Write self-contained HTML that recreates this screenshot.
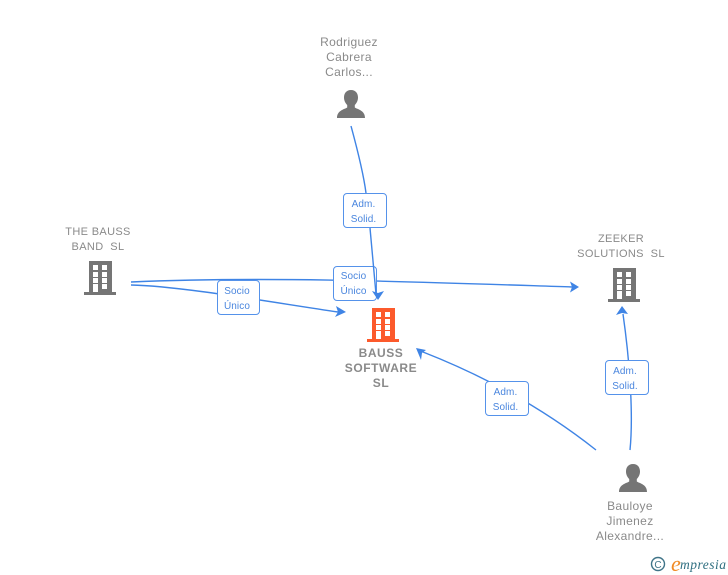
<!DOCTYPE html>
<html><head><meta charset="utf-8">
<style>
html,body{margin:0;padding:0;background:#fff}
#c{position:relative;width:728px;height:575px;overflow:hidden;font-family:"Liberation Sans",Arial,sans-serif}
.t{position:absolute;text-align:center;color:#8a8a8a;font-size:12px;line-height:15px;letter-spacing:.35px;white-space:pre}
.b{position:absolute;width:44px;height:35px;box-sizing:border-box;border:1.5px solid #5592ea;border-radius:4px;background:#fff;color:#4a86de;font-size:10px;line-height:15px;padding:3px 3px 0 0;text-align:center;letter-spacing:.1px}
svg{position:absolute;left:0;top:0}
#top{z-index:2;pointer-events:none}
</style></head><body><div id="c">
<svg width="728" height="575" viewBox="0 0 728 575">
<defs>
<path id="bld" fill-rule="evenodd" d="M5 0H28V31H32V34H0V31H5ZM9 4v5h5v-5zM18 4v5h5v-5zM9 11v5h5v-5zM18 11v5h5v-5zM9 17v5h5v-5zM18 17v5h5v-5zM9 23v8h5v-8zM18 23v5h5v-5z"/>
<path id="per" d="M14 0c-4.800 0-7 3.500-7 7.500 0 3 1.200 5.500 3.200 7.500v2.500C7 19.500 0 20.500 0 28H28c0-7.500-7-8.500-10.200-10.500V15c2-2 3.200-4.500 3.200-7.500C21 3.500 18.800 0 14 0Z"/>
</defs>
<g fill="none" stroke="#3f84e5" stroke-width="1.4">
<path d="M131 285C180 286 270 302 338 312"/>
<path d="M131 282C270 276 420 282 572 287"/>
<path d="M596 450Q520 390 423 352"/>
<path d="M630 450C633 420 631 370 623 314"/>
</g>
<g fill="#3f84e5">
<path d="M346 312L336 306L338 312L335 317Z"/>
<path d="M579 287L570 281.500L572 287L570 292.500Z"/>
<path d="M416 348L426 350L422 353L421 360Z"/>
<path d="M622 306L616 315L622 313L628 314Z"/>
</g>
<use href="#per" x="337" y="90" fill="#757575"/>
<use href="#per" x="619" y="464" fill="#757575"/>
<use href="#bld" x="84" y="261" fill="#757575"/>
<use href="#bld" x="608" y="268" fill="#757575"/>
<use href="#bld" x="367" y="308" fill="#fc5a2c"/>
<circle cx="658" cy="564" r="6.500" fill="none" stroke="#3f7488" stroke-width="1.4"/>
<text x="658" y="568" font-size="10" fill="#3f7488" text-anchor="middle" font-family="Liberation Sans">C</text>
<text x="671" y="571" font-size="22" fill="#f08a24" font-style="italic" font-family="Liberation Serif">e</text>
<text x="680" y="569" font-size="13.500" fill="#2f6f80" font-style="italic" font-family="Liberation Serif" letter-spacing=".5">mpresia</text>
</svg>
<div class="t" style="left:299px;top:35px;width:100px">Rodriguez
Cabrera
Carlos...</div>
<div class="t" style="left:48px;top:225px;width:100px;font-size:11px">THE BAUSS
BAND  SL</div>
<div class="t" style="left:561px;top:232px;width:120px;font-size:11px">ZEEKER
SOLUTIONS  SL</div>
<div class="t" style="left:331px;top:346px;width:100px;font-weight:bold;letter-spacing:.55px">BAUSS
SOFTWARE
SL</div>
<div class="t" style="left:574px;top:499px;width:112px">Bauloye
Jimenez
Alexandre...</div>
<div class="b" style="left:343px;top:193px">Adm.<br>Solid.</div>
<div class="b" style="left:333px;top:266px;padding-top:2px">Socio<br>Único</div>
<div class="b" style="left:217px;top:280px;width:43px">Socio<br>Único</div>
<div class="b" style="left:485px;top:381px">Adm.<br>Solid.</div>
<div class="b" style="left:604.500px;top:360px">Adm.<br>Solid.</div>
<svg id="top" width="728" height="575" viewBox="0 0 728 575">
<path d="M351 126Q363 170 366 193M370 228L376 294" fill="none" stroke="#3f84e5" stroke-width="1.4"/>
<path d="M378 300L372 291L378 293L384 291Z" fill="#3f84e5"/>
</svg>
</div></body></html>
